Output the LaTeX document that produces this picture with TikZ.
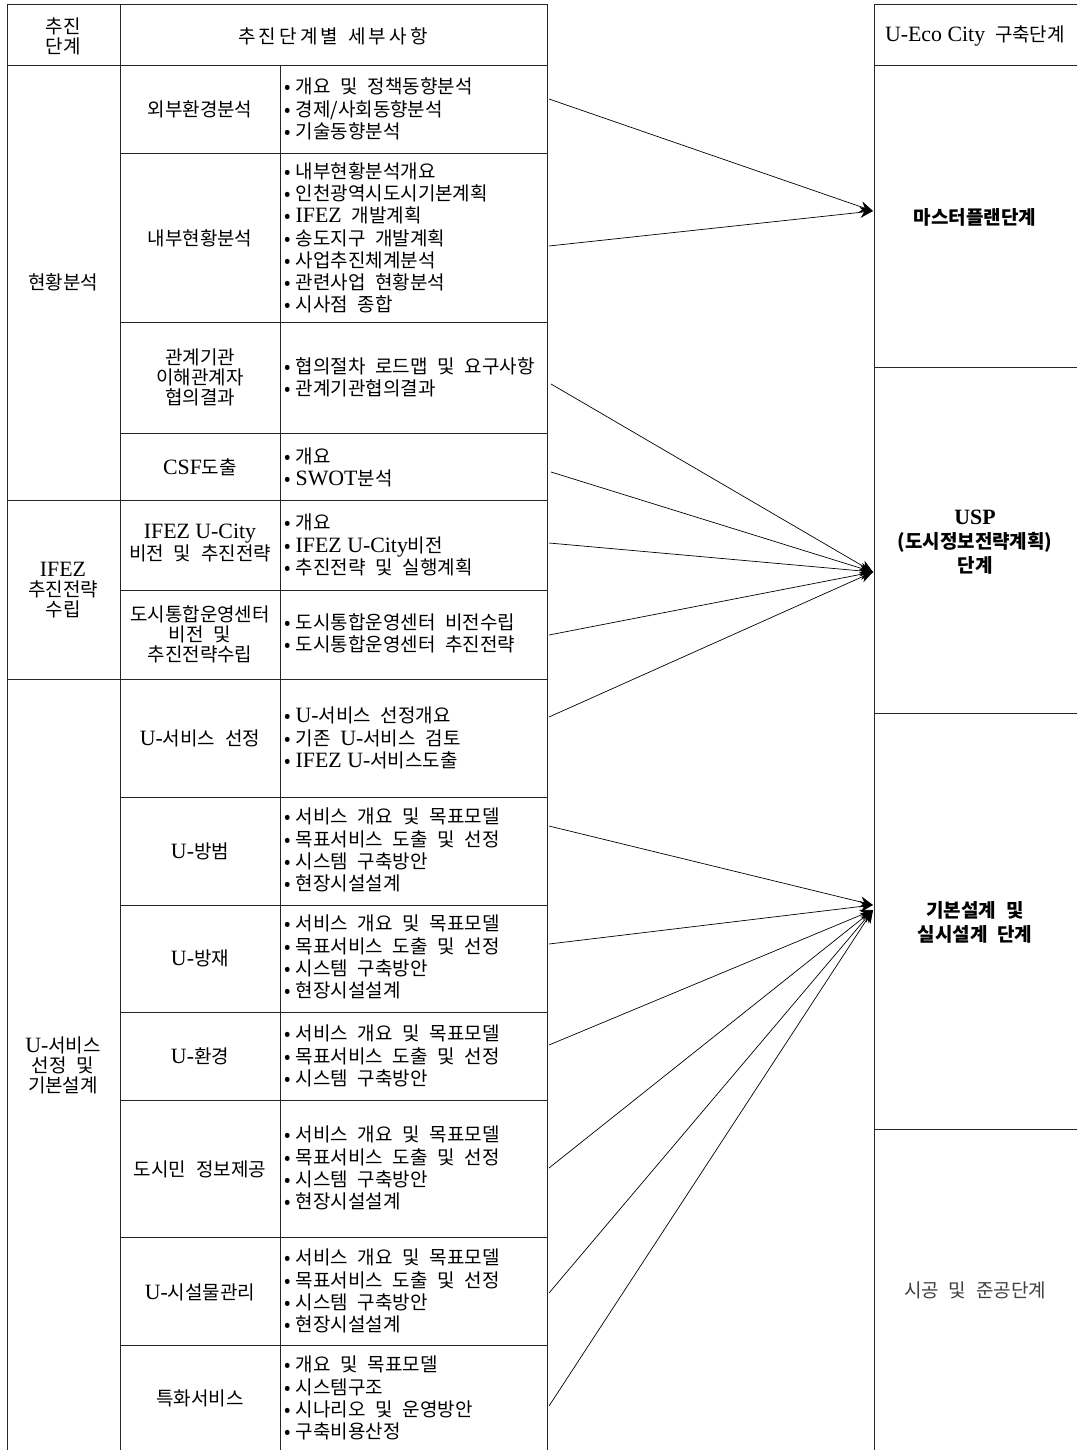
\documentclass[tikz,border=0pt]{standalone}
\usepackage{fontspec}
\setmainfont{Noto Sans CJK KR}[WordSpace=2.3]
\newfontfamily\latfont{Liberation Serif}[Scale=1.15]
\newcommand\latx[1]{{\latfont #1}}
\newcommand\bl{\textbullet\hspace{5pt}}
\usetikzlibrary{arrows.meta}
\begin{document}
\begin{tikzpicture}[x=1pt,y=-1pt,
  gridline/.style={line width=0.9pt, black!85},
  txt/.style={inner sep=0pt, align=center, font=\fontsize{19}{20}\selectfont},
  lst/.style={inner sep=0pt, anchor=west, align=left, font=\fontsize{19}{22.2}\selectfont},
  rtxt/.style={inner sep=0pt, align=center, font=\fontsize{19}{24}\selectfont},
  rbold/.style={rtxt, font=\fontsize{19}{24}\selectfont\bfseries},
  arr/.style={line width=0.7pt, -{Stealth[length=13pt,width=11pt]}}]
\useasboundingbox[fill=white] (0,0) rectangle (1077,1450);

% ---- left table grid ----
\draw[gridline] (7,4) -- (547,4);
\draw[gridline] (7,4) -- (7,1450);
\draw[gridline] (120,4) -- (120,1450);
\draw[gridline] (280,65) -- (280,1450);
\draw[gridline] (547,4) -- (547,1450);
\foreach \yy in {65,500,679} \draw[gridline] (7,\yy) -- (547,\yy);
\foreach \yy in {153,322,433,590,797,905,1012,1100,1237,1345} \draw[gridline] (120,\yy) -- (547,\yy);

% ---- right table grid ----
\draw[gridline] (874,4) -- (1077,4);
\draw[gridline] (874,4) -- (874,1450);
\foreach \yy in {65,367,713,1129} \draw[gridline] (874,\yy) -- (1077,\yy);

% ---- headers ----
\node[txt] (h1) at (63,36) {추진\\단계};
\node[txt] (h2) at (333,36) {추\,진\,단\,계\,별\ 세\,부\,사\,항};
\node[rtxt] (h3) at (975,36) {\latx{U-Eco City} 구축단계};

% ---- column 1 ----
\node[txt] (p1) at (63,282) {현황분석};
\node[txt] (p2) at (63,590) {\latx{IFEZ}\\추진전략\\수립};
\node[txt] (p3) at (63,1065) {\latx{U-}서비스\\선정 및\\기본설계};

% ---- column 2 ----
\node[txt] (a1) at (200,109) {외부환경분석};
\node[txt] (a2) at (200,238) {내부현황분석};
\node[txt] (a3) at (200,377) {관계기관\\이해관계자\\협의결과};
\node[txt] (a4) at (200,467) {\latx{CSF}도출};
\node[txt] (a5) at (200,543) {\latx{IFEZ U-City}\\비전 및 추진전략};
\node[txt] (a6) at (200,634) {도시통합운영센터\\비전 및\\추진전략수립};
\node[txt] (a7) at (200,738) {\latx{U-}서비스 선정};
\node[txt] (a8) at (200,851) {\latx{U-}방범};
\node[txt] (a9) at (200,958) {\latx{U-}방재};
\node[txt] (a10) at (200,1056) {\latx{U-}환경};
\node[txt] (a11) at (200,1169) {도시민 정보제공};
\node[txt] (a12) at (200,1292) {\latx{U-}시설물관리};
\node[txt] (a13) at (200,1398) {특화서비스};

% ---- column 3 ----
\node[lst] (b1) at (284,109) {\bl 개요 및 정책동향분석\\\bl 경제/사회동향분석\\\bl 기술동향분석};
\node[lst] (b2) at (284,238) {\bl 내부현황분석개요\\\bl 인천광역시도시기본계획\\\bl \latx{IFEZ} 개발계획\\\bl 송도지구 개발계획\\\bl 사업추진체계분석\\\bl 관련사업 현황분석\\\bl 시사점 종합};
\node[lst] (b3) at (284,377) {\bl 협의절차 로드맵 및 요구사항\\\bl 관계기관협의결과};
\node[lst] (b4) at (284,467) {\bl 개요\\\bl \latx{SWOT}분석};
\node[lst] (b5) at (284,545) {\bl 개요\\\bl \latx{IFEZ U-City}비전\\\bl 추진전략 및 실행계획};
\node[lst] (b6) at (284,633) {\bl 도시통합운영센터 비전수립\\\bl 도시통합운영센터 추진전략};
\node[lst] (b7) at (284,738) {\bl \latx{U-}서비스 선정개요\\\bl 기존 \latx{U-}서비스 검토\\\bl \latx{IFEZ U-}서비스도출};
\node[lst] (b8) at (284,850) {\bl 서비스 개요 및 목표모델\\\bl 목표서비스 도출 및 선정\\\bl 시스템 구축방안\\\bl 현장시설설계};
\node[lst] (b9) at (284,957) {\bl 서비스 개요 및 목표모델\\\bl 목표서비스 도출 및 선정\\\bl 시스템 구축방안\\\bl 현장시설설계};
\node[lst] (b10) at (284,1056) {\bl 서비스 개요 및 목표모델\\\bl 목표서비스 도출 및 선정\\\bl 시스템 구축방안};
\node[lst] (b11) at (284,1168) {\bl 서비스 개요 및 목표모델\\\bl 목표서비스 도출 및 선정\\\bl 시스템 구축방안\\\bl 현장시설설계};
\node[lst] (b12) at (284,1291) {\bl 서비스 개요 및 목표모델\\\bl 목표서비스 도출 및 선정\\\bl 시스템 구축방안\\\bl 현장시설설계};
\node[lst] (b13) at (284,1398) {\bl 개요 및 목표모델\\\bl 시스템구조\\\bl 시나리오 및 운영방안\\\bl 구축비용산정};

% ---- right column texts ----
\node[rbold] (r1) at (975,217) {마스터플랜단계};
\node[rbold] (r2) at (975,542) {{\latfont\bfseries USP}\\(도시정보전략계획)\\단계};
\node[rbold] (r3) at (975,922) {기본설계 및\\실시설계 단계};
\node[rtxt, text=black!75] (r4) at (975,1290) {시공 및 준공단계};

% ---- connector endpoints ----
\coordinate (tM) at (873,211);
\coordinate (tU) at (873,572);
\coordinate (tD) at (873,905);
\coordinate (tD2) at (873,910);
\coordinate (s1) at (549,99);
\coordinate (s2) at (549,246);
\coordinate (s3) at (551,384);
\coordinate (s4) at (551,472);
\coordinate (s5) at (549,543);
\coordinate (s6) at (549,635);
\coordinate (s7) at (549,717);
\coordinate (s8) at (549,826);
\coordinate (s9) at (549,944);
\coordinate (s10) at (549,1045);
\coordinate (s11) at (549,1168);
\coordinate (s12) at (549,1293);
\coordinate (s13) at (549,1406);

\draw[arr] (s1) -- (tM);
\draw[arr] (s2) -- (tM);
\draw[arr] (s3) -- (tU);
\draw[arr] (s4) -- (tU);
\draw[arr] (s5) -- (tU);
\draw[arr] (s6) -- (tU);
\draw[arr] (s7) -- (tU);
\draw[arr] (s8) -- (tD);
\draw[arr] (s9) -- (tD);
\draw[arr] (s10) -- (tD2);
\draw[arr] (s11) -- (tD2);
\draw[arr] (s12) -- (tD2);
\draw[arr] (s13) -- (tD2);
\end{tikzpicture}
\end{document}
